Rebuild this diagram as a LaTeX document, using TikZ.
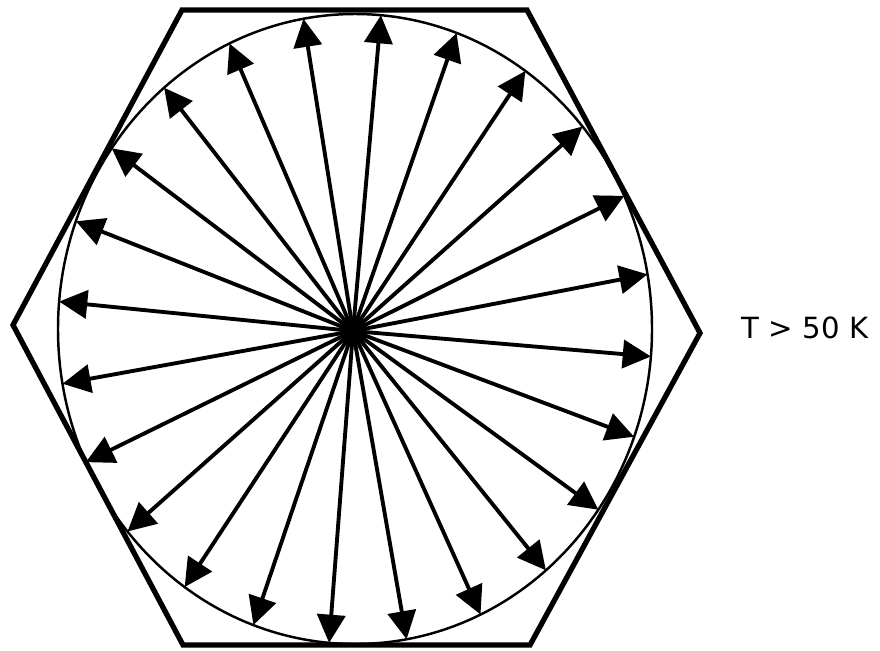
\documentclass[tikz,border=0pt]{standalone}
\usepackage{fontspec}
\newfontfamily\labelfont{DejaVu Sans}
\usetikzlibrary{arrows.meta,calc}
\tikzset{
  >=Triangle,
  hexagon/.style={draw=black,line width=1.5pt},
  rim/.style={draw=black,line width=0.7pt},
  ray/.style={-{Triangle[length=8pt,width=8pt]},line width=1.1pt,draw=black},
  templabel/.style={font=\labelfont\fontsize{8.3}{10}\selectfont,text=black,inner sep=0pt}
}

\begin{document}
\begin{tikzpicture}[x=0.01cm,y=0.01cm]
  \useasboundingbox (0,0) rectangle (880,650);
  \draw[hexagon] (183,5)--(530,5)--(700,317)--(527,640)--(182,640)--(13,325)--cycle;
  \draw[rim] (355,321) ellipse [x radius=297,y radius=315];
  \coordinate (hub) at (353,319);
  \foreach \a in {10,25,...,355}{
    \coordinate (tip\a) at ($(355,321)+(\a:297 and 315)$);
    \draw[ray] (hub)--(tip\a);
  }
  \node[templabel] (temp) at (805,322) {T > 50 K};
\end{tikzpicture}
\end{document}
